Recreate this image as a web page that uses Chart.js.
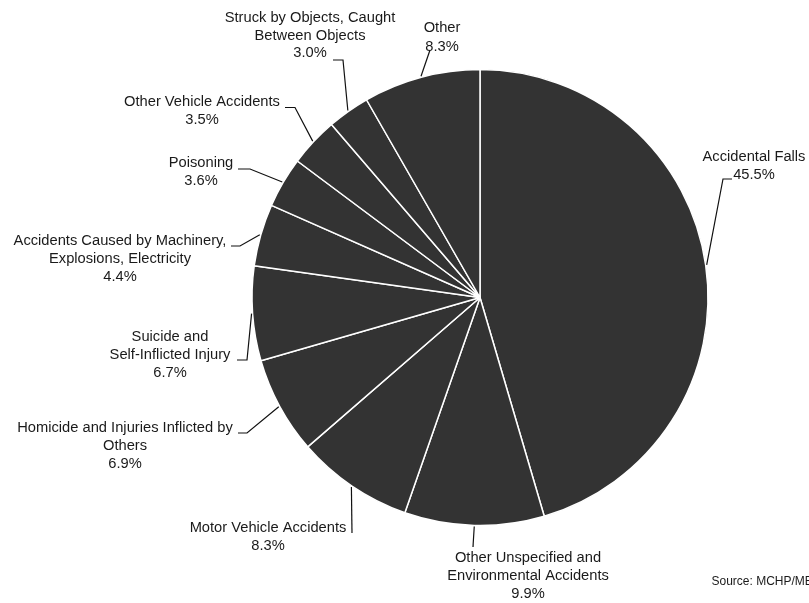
<!DOCTYPE html>
<html>
<head>
<meta charset="utf-8">
<script src="https://cdn.jsdelivr.net/npm/chart.js@4.4.1/dist/chart.umd.min.js"></script>
<style>
  html, body { margin: 0; padding: 0; background: #fff; }
  #wrap { width: 809px; height: 603px; }
</style>
</head>
<body>
<div id="wrap"><canvas id="injuryPie" width="809" height="603"></canvas></div>
<script>
// causes of injury, multi-line labels as they are printed
const categories = [
    ['Accidental Falls'],
    ['Other Unspecified and', 'Environmental Accidents'],
    ['Motor Vehicle Accidents'],
    ['Homicide and Injuries Inflicted by', 'Others'],
    ['Suicide and', 'Self-Inflicted Injury'],
    ['Accidents Caused by Machinery,', 'Explosions, Electricity'],
    ['Poisoning'],
    ['Other Vehicle Accidents'],
    ['Struck by Objects, Caught', 'Between Objects'],
    ['Other']
];
const shares = [45.5, 9.9, 8.3, 6.9, 6.7, 4.4, 3.6, 3.5, 3.0, 8.3];
const sourceNote = 'Source: MCHP/MB';

// where each label sits and the bends of its leader line
const labelLayout = [
    { x: 754, y: 157, step: 18, path: [[723, 179], [732, 179]] },
    { x: 528, y: 558, step: 18, path: [[473, 547]] },
    { x: 268, y: 528, step: 18, path: [[352, 533]] },
    { x: 125, y: 428, step: 18, path: [[247, 433], [238, 433]] },
    { x: 170, y: 337, step: 18, path: [[247, 360], [237, 360]] },
    { x: 120, y: 241, step: 18, path: [[240, 246], [231, 246]] },
    { x: 201, y: 163, step: 18, path: [[250, 169], [238, 169]] },
    { x: 202, y: 102, step: 17.5, path: [[295, 107.5], [285, 107.5]] },
    { x: 310, y: 18, step: 17.5, path: [[343, 60], [333, 60]] },
    { x: 442, y: 28, step: 19, path: [[430, 50]] }
];

const FONT = '14.7px "Liberation Sans", Arial, sans-serif';

const leaderLabels = {
    id: 'leaderLabels',
    afterDatasetsDraw(chart) {
        const ctx = chart.ctx;
        const arcs = chart.getDatasetMeta(0).data;
        ctx.save();
        ctx.strokeStyle = '#111';
        ctx.lineWidth = 1.2;
        arcs.forEach((arc, i) => {
            const lay = labelLayout[i];
            const mid = (arc.startAngle + arc.endAngle) / 2;
            const r = arc.outerRadius + 1;
            ctx.beginPath();
            ctx.moveTo(arc.x + Math.cos(mid) * r, arc.y + Math.sin(mid) * r);
            lay.path.forEach(p => ctx.lineTo(p[0], p[1]));
            ctx.stroke();

            const lines = categories[i].concat([shares[i].toFixed(1) + '%']);
            ctx.fillStyle = '#1a1a1a';
            ctx.font = FONT;
            ctx.textAlign = 'center';
            ctx.textBaseline = 'middle';
            lines.forEach((t, k) => ctx.fillText(t, lay.x, lay.y + k * lay.step));
        });

        ctx.font = '12px "Liberation Sans", Arial, sans-serif';
        ctx.textAlign = 'left';
        ctx.fillText(sourceNote, 711.5, 581.5);
        ctx.restore();
    }
};

new Chart(document.getElementById('injuryPie'), {
    type: 'pie',
    data: {
        labels: categories,
        datasets: [{
            data: shares,
            backgroundColor: '#333333',
            borderColor: '#ffffff',
            borderWidth: 1.5
        }]
    },
    options: {
        responsive: false,
        animation: false,
        radius: 228,
        layout: { padding: { left: 252, right: 101, top: 70, bottom: 78 } },
        plugins: {
            legend: { display: false },
            tooltip: { enabled: false }
        }
    },
    plugins: [leaderLabels]
});
</script>
</body>
</html>
